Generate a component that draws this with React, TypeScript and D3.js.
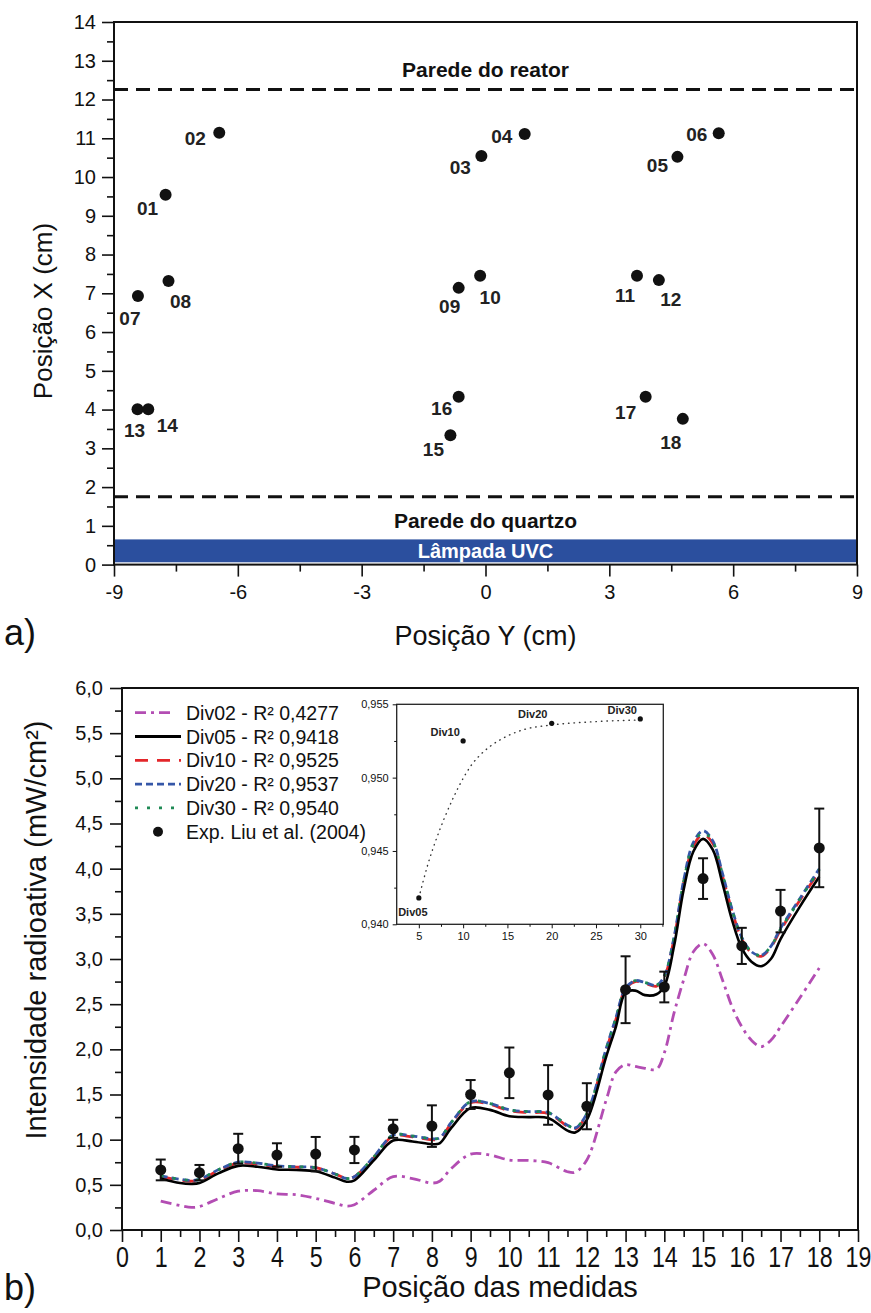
import React, { useEffect, useRef } from "react";
import * as d3 from "d3";

// ---- panel a) : measurement positions inside the reactor ----
const pointIds = ["01", "02", "03", "04", "05", "06", "07", "08", "09", "10", "11", "12", "13", "14", "15", "16", "17", "18"];
const pointPosY = [-7.75, -6.45, -0.1, 0.95, 4.65, 5.65, -8.42, -7.68, -0.65, -0.13, 3.67, 4.2, -8.43, -8.17, -0.85, -0.65, 3.88, 4.78];
const pointPosX = [9.54, 11.14, 10.54, 11.11, 10.52, 11.13, 6.93, 7.32, 7.14, 7.45, 7.45, 7.34, 4.01, 4.01, 3.34, 4.33, 4.33, 3.76];
// label offset from its dot, in px
const labelOffsets = [
  [-18, 13], [-24, 5], [-21, 11], [-23, 2], [-20, 8], [-22, 1],
  [-8, 22], [12, 20], [-9, 18], [10, 21], [-12, 19], [12, 19],
  [-3, 21], [19, 16], [-17, 14], [-17, 11], [-20, 15], [-12, 23],
];
const reactorWall = 12.26;
const quartzWall = 1.75;
const lampRange = [0.06, 0.65];

// ---- panel b) : radiative intensity ----
const positions = [1, 2, 3, 4, 5, 6, 7, 8, 9, 10, 11, 12, 13, 14, 15, 16, 17, 18];
const expMean = [0.665, 0.635, 0.9, 0.83, 0.84, 0.886, 1.12, 1.15, 1.5, 1.74, 1.495, 1.37, 2.66, 2.69, 3.89, 3.145, 3.53, 4.23];
const expErr = [0.115, 0.085, 0.165, 0.13, 0.19, 0.145, 0.1, 0.23, 0.16, 0.28, 0.33, 0.255, 0.37, 0.17, 0.225, 0.2, 0.235, 0.435];

const simX = [1, 1.5, 1.8, 2, 2.5, 3, 3.5, 4, 4.5, 5, 5.5, 5.8, 6, 6.5, 7, 7.5, 8, 8.2, 8.5, 9, 9.5, 10, 10.5, 11, 11.5, 11.7, 12, 12.5, 12.75, 13, 13.25, 13.5, 13.8, 14, 14.25, 14.5, 14.75, 15, 15.25, 15.5, 15.75, 16, 16.25, 16.5, 16.75, 17, 17.5, 18];
const div02 = [0.32, 0.27, 0.25, 0.26, 0.35, 0.43, 0.435, 0.4, 0.39, 0.35, 0.295, 0.265, 0.28, 0.44, 0.59, 0.57, 0.52, 0.54, 0.68, 0.84, 0.83, 0.775, 0.77, 0.745, 0.645, 0.64, 0.775, 1.44, 1.75, 1.83, 1.81, 1.79, 1.78, 1.96, 2.4, 2.77, 3.08, 3.17, 3.05, 2.77, 2.47, 2.25, 2.1, 2.03, 2.1, 2.25, 2.57, 2.9];
const div05 = [0.57, 0.52, 0.51, 0.52, 0.63, 0.71, 0.7, 0.67, 0.665, 0.65, 0.58, 0.535, 0.55, 0.77, 0.99, 0.98, 0.95, 0.96, 1.13, 1.35, 1.33, 1.26, 1.25, 1.24, 1.1, 1.08, 1.22, 1.92, 2.25, 2.63, 2.65, 2.6, 2.61, 2.7, 3.14, 3.77, 4.19, 4.33, 4.21, 3.84, 3.43, 3.12, 2.97, 2.92, 3.0, 3.22, 3.58, 3.91];
const div10 = [0.59, 0.55, 0.54, 0.55, 0.66, 0.74, 0.73, 0.7, 0.695, 0.69, 0.62, 0.57, 0.59, 0.8, 1.04, 1.03, 1.0, 1.01, 1.18, 1.41, 1.39, 1.32, 1.3, 1.29, 1.15, 1.12, 1.28, 1.99, 2.33, 2.67, 2.75, 2.73, 2.7, 2.8, 3.22, 3.84, 4.25, 4.38, 4.28, 3.92, 3.53, 3.22, 3.07, 3.03, 3.13, 3.32, 3.65, 3.97];
const div20 = [0.6, 0.56, 0.55, 0.56, 0.67, 0.75, 0.74, 0.71, 0.7, 0.69, 0.62, 0.57, 0.59, 0.81, 1.05, 1.04, 1.01, 1.02, 1.19, 1.42, 1.4, 1.33, 1.31, 1.3, 1.16, 1.13, 1.29, 2.01, 2.35, 2.68, 2.76, 2.74, 2.71, 2.81, 3.24, 3.87, 4.29, 4.42, 4.31, 3.95, 3.55, 3.24, 3.08, 3.04, 3.14, 3.34, 3.67, 4.0];
const div30 = [0.6, 0.56, 0.55, 0.56, 0.67, 0.75, 0.74, 0.71, 0.7, 0.69, 0.62, 0.57, 0.59, 0.81, 1.05, 1.04, 1.01, 1.02, 1.19, 1.42, 1.4, 1.33, 1.31, 1.3, 1.16, 1.13, 1.29, 2.0, 2.34, 2.68, 2.76, 2.74, 2.71, 2.81, 3.23, 3.86, 4.27, 4.4, 4.3, 3.94, 3.54, 3.23, 3.08, 3.04, 3.14, 3.33, 3.66, 3.99];

const seriesNames = ["Div02 - R² 0,4277", "Div05 - R² 0,9418", "Div10 - R² 0,9525", "Div20 - R² 0,9537", "Div30 - R² 0,9540"];
const seriesColors = ["#b34db3", "#000000", "#e3262a", "#3557a8", "#1f8a55"];
const seriesDash = ["11 5 3 5", "none", "13 9", "7 4", "3 9"];

// inset: R² vs divisions
const insetDiv = [5, 10, 20, 30];
const insetR2 = [0.9418, 0.9525, 0.9537, 0.954];
const insetNames = ["Div05", "Div10", "Div20", "Div30"];
const fitX = [5, 6, 7, 8, 9, 10, 11, 12, 13, 15, 17, 20, 25, 30];
const fitY = [0.9418, 0.94405, 0.94586, 0.94741, 0.94877, 0.94995, 0.95091, 0.95159, 0.95211, 0.95284, 0.9533, 0.95359, 0.95382, 0.95393];

const FONT = "'Liberation Sans', Arial, Helvetica, sans-serif";
const comma = (f: (n: number) => string) => (d: any) => f(d).replace(".", ",");
const plain = (d: any) => String(d);

export default function App() {
  const svgRef = useRef<SVGSVGElement>(null);

  useEffect(() => {
    const svg = d3.select(svgRef.current);
    svg.selectAll("*").remove();
    svg.style("font-family", FONT);

    const styleAxis = (g: any, size: number) => {
      g.select(".domain").remove();
      g.selectAll("line").attr("stroke", "#111").attr("stroke-width", 1.6);
      g.selectAll("text").attr("fill", "#111").style("font-size", size + "px").style("font-family", FONT);
    };

    // ================= panel a =================
    const xa = d3.scaleLinear().domain([-9, 9]).range([114, 857]);
    const ya = d3.scaleLinear().domain([0, 14]).range([564.6, 22]);
    const a = svg.append("g");

    // lamp
    a.append("rect")
      .attr("x", xa(-9) + 1)
      .attr("width", xa(9) - xa(-9) - 2)
      .attr("y", ya(lampRange[1]))
      .attr("height", ya(lampRange[0]) - ya(lampRange[1]))
      .attr("fill", "#2b4f9e");
    a.append("text")
      .attr("x", (xa(-9) + xa(9)) / 2)
      .attr("y", (ya(lampRange[0]) + ya(lampRange[1])) / 2 + 7)
      .attr("text-anchor", "middle")
      .attr("fill", "#fff")
      .style("font-weight", "bold")
      .style("font-size", "20px")
      .text("Lâmpada UVC");

    // walls
    [reactorWall, quartzWall].forEach((w) => {
      a.append("line")
        .attr("x1", xa(-9)).attr("x2", xa(9))
        .attr("y1", ya(w)).attr("y2", ya(w))
        .attr("stroke", "#111").attr("stroke-width", 3)
        .attr("stroke-dasharray", "14 8");
    });
    a.append("text")
      .attr("x", xa(0)).attr("y", ya(12.78) + 8)
      .attr("text-anchor", "middle").style("font-weight", "bold").style("font-size", "21px")
      .attr("fill", "#111").text("Parede do reator");
    a.append("text")
      .attr("x", xa(0)).attr("y", ya(1.15) + 8)
      .attr("text-anchor", "middle").style("font-weight", "bold").style("font-size", "21px")
      .attr("fill", "#111").text("Parede do quartzo");

    // axes
    const axA = a.append("g").attr("transform", `translate(0,${ya(0)})`)
      .call(d3.axisBottom(xa).tickValues([-9, -6, -3, 0, 3, 6, 9]).tickSize(12).tickPadding(8).tickFormat(plain));
    styleAxis(axA, 20);
    const axAm = a.append("g").attr("transform", `translate(0,${ya(0)})`)
      .call(d3.axisBottom(xa).tickValues([-7.5, -4.5, -1.5, 1.5, 4.5, 7.5]).tickSize(7).tickFormat(() => ""));
    styleAxis(axAm, 20);
    const ayA = a.append("g").attr("transform", `translate(${xa(-9)},0)`)
      .call(d3.axisLeft(ya).tickValues(d3.range(0, 15)).tickSize(12).tickPadding(6).tickFormat(plain));
    styleAxis(ayA, 20);
    const ayAm = a.append("g").attr("transform", `translate(${xa(-9)},0)`)
      .call(d3.axisLeft(ya).tickValues(d3.range(0.5, 14, 1)).tickSize(7).tickFormat(() => ""));
    styleAxis(ayAm, 20);

    a.append("rect")
      .attr("x", xa(-9)).attr("y", ya(14))
      .attr("width", xa(9) - xa(-9)).attr("height", ya(0) - ya(14))
      .attr("fill", "none").attr("stroke", "#111").attr("stroke-width", 2);

    // points
    a.selectAll("circle.pt").data(pointIds).join("circle")
      .attr("class", "pt")
      .attr("cx", (_, i) => xa(pointPosY[i]))
      .attr("cy", (_, i) => ya(pointPosX[i]))
      .attr("r", 6)
      .attr("fill", "#111");
    a.selectAll("text.pl").data(pointIds).join("text")
      .attr("class", "pl")
      .attr("x", (_, i) => xa(pointPosY[i]) + labelOffsets[i][0])
      .attr("y", (_, i) => ya(pointPosX[i]) + labelOffsets[i][1] + 7)
      .attr("text-anchor", "middle")
      .style("font-weight", "bold").style("font-size", "19px")
      .attr("fill", "#222")
      .text((d) => d);

    a.append("text")
      .attr("transform", `translate(52,311) rotate(-90)`)
      .attr("text-anchor", "middle").style("font-size", "26px").attr("fill", "#111")
      .text("Posição X (cm)");
    a.append("text")
      .attr("x", (xa(-9) + xa(9)) / 2).attr("y", 645)
      .attr("text-anchor", "middle").style("font-size", "27px").attr("fill", "#111")
      .text("Posição Y (cm)");
    a.append("text").attr("x", 4).attr("y", 645).style("font-size", "36px").attr("fill", "#111").text("a)");

    // ================= panel b =================
    const xb = d3.scaleLinear().domain([0, 19]).range([122, 858]);
    const yb = d3.scaleLinear().domain([0, 6]).range([1230, 688]);
    const b = svg.append("g");

    const axB = b.append("g").attr("transform", `translate(0,${yb(0)})`)
      .call(d3.axisBottom(xb).tickValues(d3.range(0, 20)).tickSize(12).tickPadding(4).tickFormat(plain));
    styleAxis(axB, 29);
    axB.selectAll("text").attr("transform", "scale(0.8,1)");
    const axBm = b.append("g").attr("transform", `translate(0,${yb(0)})`)
      .call(d3.axisBottom(xb).tickValues(d3.range(0.5, 19, 1)).tickSize(7).tickFormat(() => ""));
    styleAxis(axBm, 20);
    const ayB = b.append("g").attr("transform", `translate(${xb(0)},0)`)
      .call(d3.axisLeft(yb).tickValues(d3.range(0, 6.01, 0.5)).tickSize(12).tickPadding(7).tickFormat(comma(d3.format(".1f"))));
    styleAxis(ayB, 20);
    const ayBm = b.append("g").attr("transform", `translate(${xb(0)},0)`)
      .call(d3.axisLeft(yb).tickValues(d3.range(0.25, 6, 0.5)).tickSize(7).tickFormat(() => ""));
    styleAxis(ayBm, 20);

    b.append("rect")
      .attr("x", xb(0)).attr("y", yb(6))
      .attr("width", xb(19) - xb(0)).attr("height", yb(0) - yb(6))
      .attr("fill", "none").attr("stroke", "#111").attr("stroke-width", 2);

    const line = d3.line<number>()
      .x((_, i) => xb(simX[i]))
      .y((d) => yb(d))
      .curve(d3.curveCatmullRom.alpha(0.5));

    const series = [div02, div05, div10, div20, div30];
    const drawOrder = [0, 2, 3, 4, 1];
    drawOrder.forEach((k) => {
      b.append("path")
        .datum(series[k])
        .attr("d", line as any)
        .attr("fill", "none")
        .attr("stroke", seriesColors[k])
        .attr("stroke-width", k === 1 ? 2.6 : 2.8)
        .attr("stroke-dasharray", seriesDash[k]);
    });

    // experimental points with error bars
    const eb = b.append("g").attr("stroke", "#111").attr("stroke-width", 2);
    positions.forEach((p, i) => {
      const lo = yb(expMean[i] - expErr[i]);
      const hi = yb(expMean[i] + expErr[i]);
      eb.append("line").attr("x1", xb(p)).attr("x2", xb(p)).attr("y1", lo).attr("y2", hi);
      eb.append("line").attr("x1", xb(p) - 5).attr("x2", xb(p) + 5).attr("y1", lo).attr("y2", lo);
      eb.append("line").attr("x1", xb(p) - 5).attr("x2", xb(p) + 5).attr("y1", hi).attr("y2", hi);
    });
    b.selectAll("circle.exp").data(positions).join("circle")
      .attr("class", "exp")
      .attr("cx", (d) => xb(d))
      .attr("cy", (_, i) => yb(expMean[i]))
      .attr("r", 5.5)
      .attr("fill", "#111");

    // legend
    const lg = b.append("g");
    seriesNames.forEach((name, i) => {
      const cy = 712.7 + i * 23.8;
      lg.append("line")
        .attr("x1", 135).attr("x2", i === 0 ? 172 : 181)
        .attr("y1", cy).attr("y2", cy)
        .attr("stroke", seriesColors[i]).attr("stroke-width", 2.8)
        .attr("stroke-dasharray", seriesDash[i]);
      lg.append("text").attr("x", 186).attr("y", cy + 7)
        .style("font-size", "19.5px").attr("fill", "#111").text(name);
    });
    const expRow = 712.7 + 5 * 23.8;
    lg.append("circle").attr("cx", 158).attr("cy", expRow).attr("r", 5).attr("fill", "#111");
    lg.append("text").attr("x", 186).attr("y", expRow + 7)
      .style("font-size", "19.5px").attr("fill", "#111").text("Exp. Liu et al. (2004)");

    // titles
    b.append("text")
      .attr("transform", `translate(46,930) rotate(-90)`)
      .attr("text-anchor", "middle").style("font-size", "29px").attr("fill", "#111")
      .text("Intensidade radioativa (mW/cm²)");
    b.append("text")
      .attr("x", 500).attr("y", 1297)
      .attr("text-anchor", "middle").style("font-size", "29px").attr("fill", "#111")
      .text("Posição das medidas");
    b.append("text").attr("x", 4).attr("y", 1300).style("font-size", "36px").attr("fill", "#111").text("b)");

    // ---- inset ----
    const xi = d3.scaleLinear().domain([2.5, 32.6]).range([396.7, 663.3]);
    const yi = d3.scaleLinear().domain([0.94, 0.955]).range([924.3, 704.3]);
    const ins = b.append("g");
    ins.append("rect")
      .attr("x", xi.range()[0]).attr("y", yi.range()[1])
      .attr("width", xi.range()[1] - xi.range()[0]).attr("height", yi.range()[0] - yi.range()[1])
      .attr("fill", "#fff").attr("stroke", "#222").attr("stroke-width", 1.3);
    const axI = ins.append("g").attr("transform", `translate(0,${yi(0.94)})`)
      .call(d3.axisBottom(xi).tickValues([5, 10, 15, 20, 25, 30]).tickSize(4).tickPadding(4).tickFormat(plain));
    styleAxis(axI, 11);
    const axIm = ins.append("g").attr("transform", `translate(0,${yi(0.94)})`)
      .call(d3.axisBottom(xi).tickValues([7.5, 12.5, 17.5, 22.5, 27.5, 32.5]).tickSize(2.5).tickFormat(() => ""));
    styleAxis(axIm, 11);
    const ayI = ins.append("g").attr("transform", `translate(${xi(2.5)},0)`)
      .call(d3.axisLeft(yi).tickValues([0.94, 0.945, 0.95, 0.955]).tickSize(4).tickPadding(4).tickFormat(comma(d3.format(".3f"))));
    styleAxis(ayI, 11);
    const ayIm = ins.append("g").attr("transform", `translate(${xi(2.5)},0)`)
      .call(d3.axisLeft(yi).tickValues([0.9425, 0.9475, 0.9525]).tickSize(2.5).tickFormat(() => ""));
    styleAxis(ayIm, 11);
    [axI, axIm, ayI, ayIm].forEach((g) => g.selectAll("line").attr("stroke-width", 1));

    const fitLine = d3.line<number>()
      .x((d) => xi(d))
      .y((_, i) => yi(fitY[i]))
      .curve(d3.curveMonotoneX);
    ins.append("path")
      .datum(fitX)
      .attr("d", fitLine as any)
      .attr("fill", "none")
      .attr("stroke", "#333")
      .attr("stroke-width", 1.4)
      .attr("stroke-linecap", "round")
      .attr("stroke-dasharray", "0.5 5");

    const insetLabelOff = [[-6, 14], [-18, -9], [-19, -9], [-18, -9]];
    insetDiv.forEach((d, i) => {
      ins.append("circle").attr("cx", xi(d)).attr("cy", yi(insetR2[i])).attr("r", 2.6).attr("fill", "#111");
      ins.append("text")
        .attr("x", xi(d) + insetLabelOff[i][0])
        .attr("y", yi(insetR2[i]) + insetLabelOff[i][1] + 4)
        .attr("text-anchor", "middle")
        .style("font-weight", "bold").style("font-size", "11px").attr("fill", "#222")
        .text(insetNames[i]);
    });
  }, []);

  return (
    <svg
      ref={svgRef}
      width={871}
      height={1313}
      style={{ position: "absolute", left: 0, top: 0, background: "#fff" }}
    />
  );
}
